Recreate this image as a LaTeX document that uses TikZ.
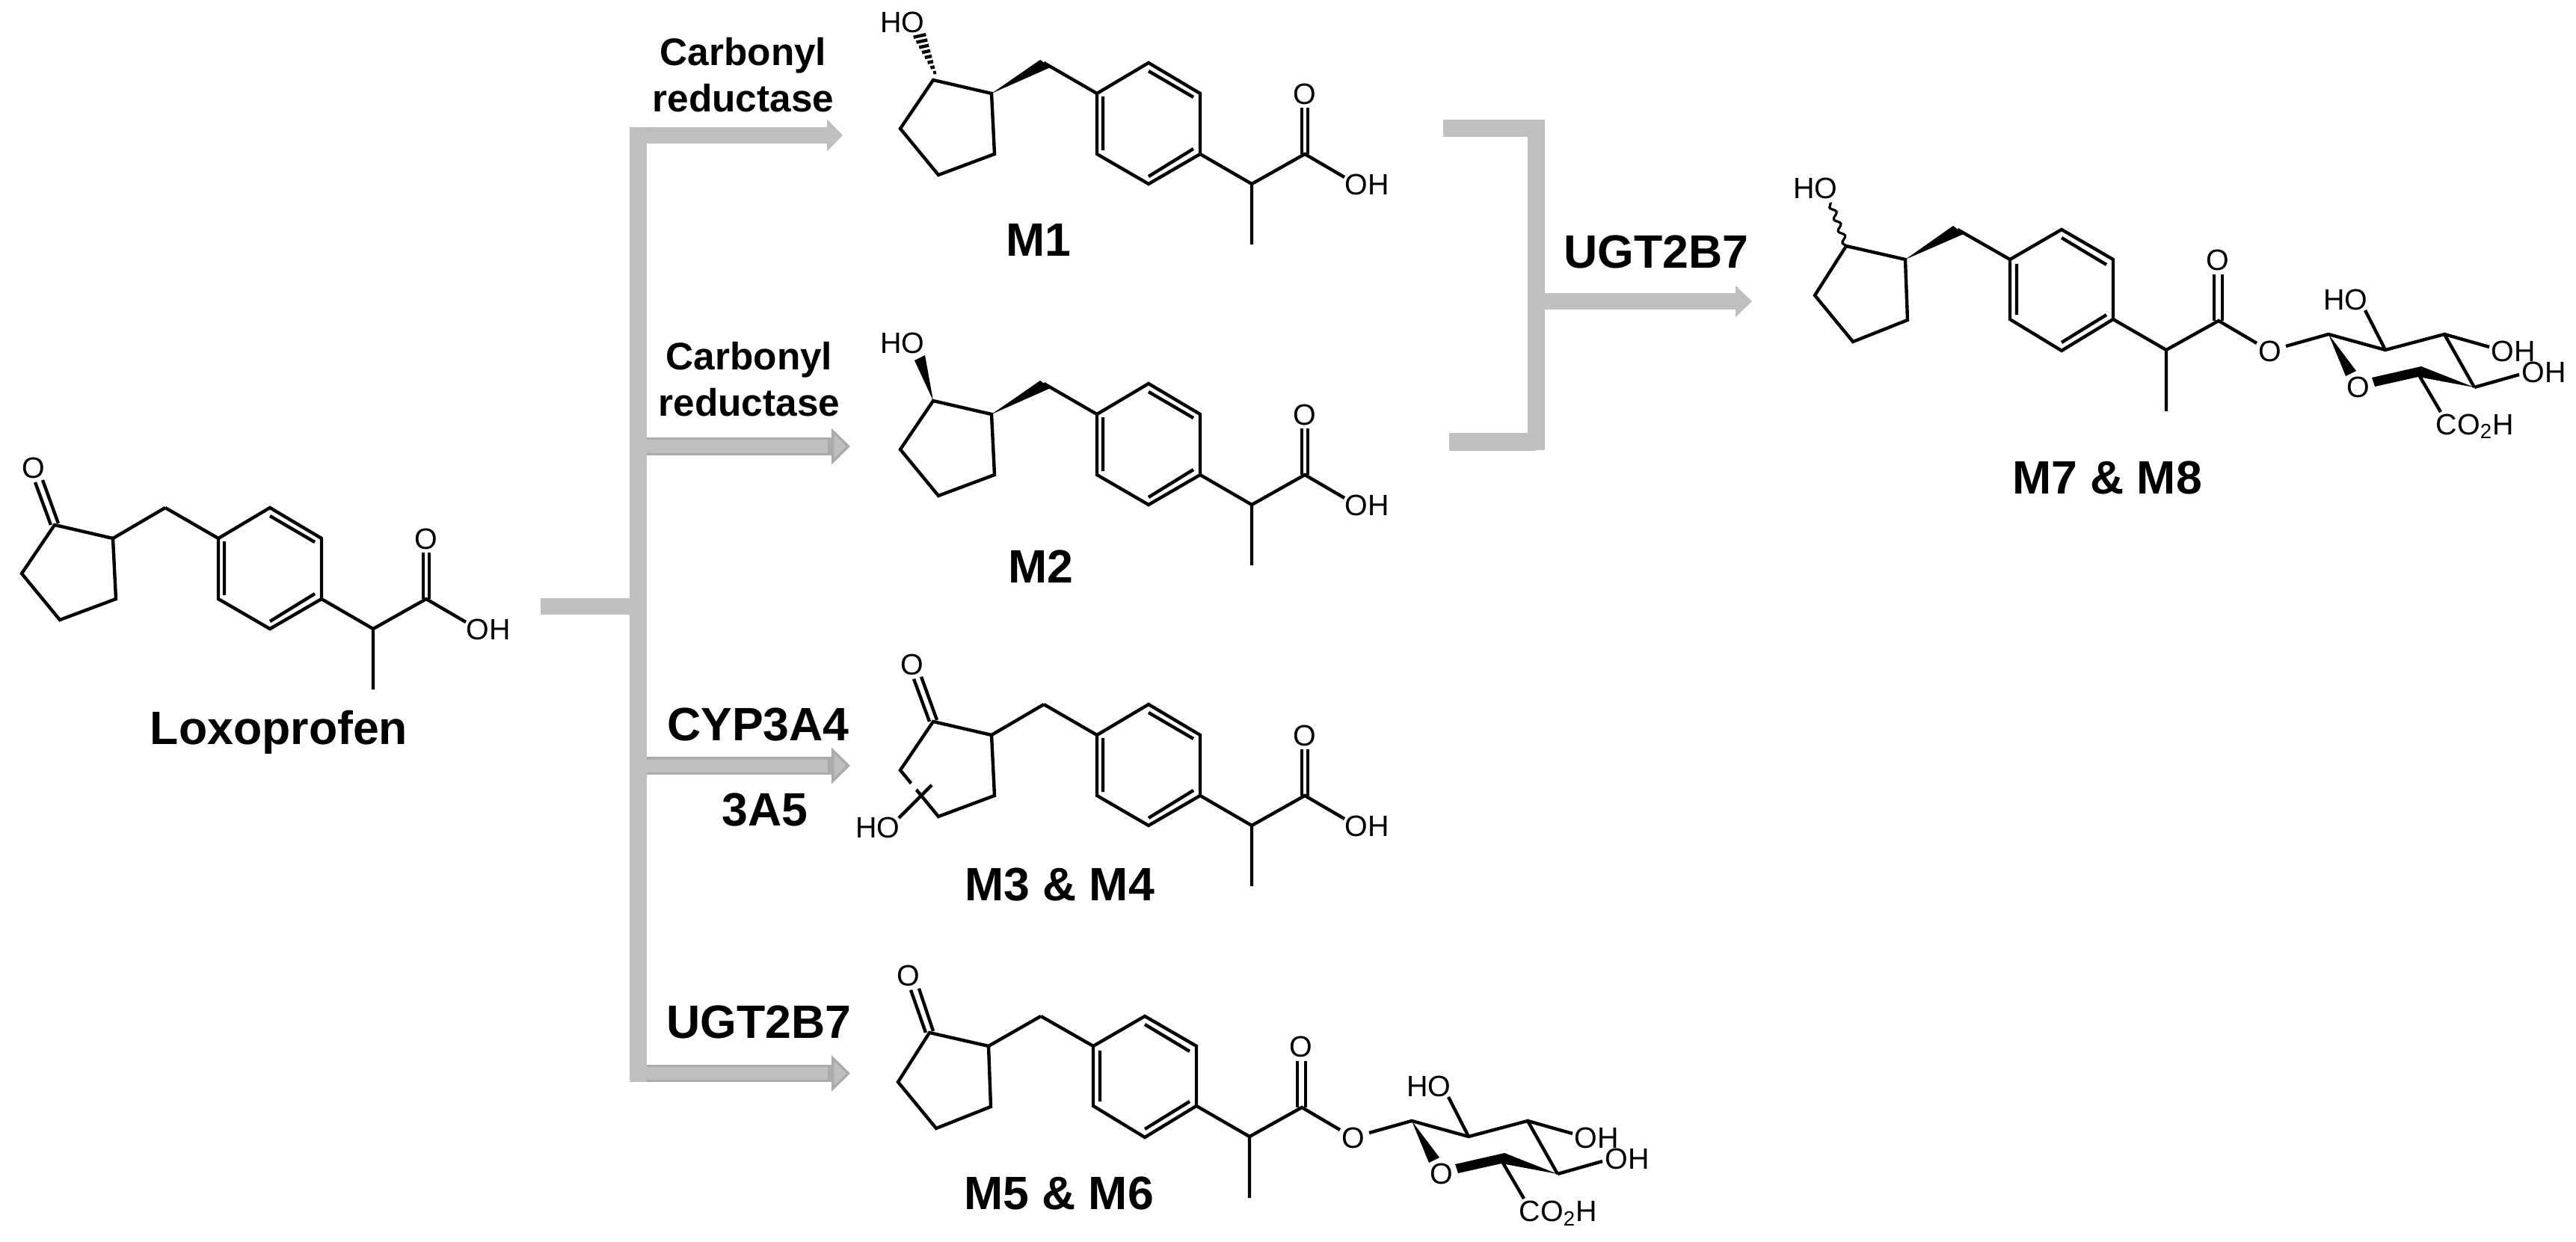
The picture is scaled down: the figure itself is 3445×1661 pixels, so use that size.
\documentclass[tikz,border=0pt]{standalone}
\usepackage{fontspec}
\usepackage{tikz}
\usetikzlibrary{arrows.meta,decorations.pathmorphing}
\setmainfont{Liberation Sans}
\definecolor{barfill}{HTML}{BFBFBF}
\definecolor{baredge}{HTML}{ABABAB}

\newcommand{\acidbody}[1]{%
    \draw[bond] (73,702) -- (151,720) -- (155,801) -- (80,829) -- (29,767) -- cycle;
    \draw[bond] (221,679) -- (292,720) -- (361,679) -- (430,720) -- (430,801) -- (361,841) -- (292,801) -- (292,720);
    \draw[bond] (300,724) -- (300,796) (361,690) -- (421,725) (421,794) -- (361,831);
    \draw[bond] (430,801) -- (499,841) -- (570,801) -- (623,832) (499,841) -- (499,922);
    \draw[bond] (566,739) -- (566,801) (574,739) -- (574,801);
    \node[atomlab] (#1o) at (570,721) {O};
    \node[atomlab] (#1oh) at (653,842) {OH};
}
\newcommand{\ketoneacid}[1]{%
    \draw[bond] (47,645) -- (68,702) (57,642) -- (78,700) (151,720) -- (221,679);
    \node[atomlab] (#1ko) at (45,626) {O};
}
\newcommand{\glucbody}[1]{%
    \draw[bond] (1243,1381) -- (1322,1399) -- (1325,1480) -- (1252,1509) -- (1201,1447) -- cycle;
    \draw[bond] (1392,1359) -- (1462,1399) -- (1531,1359) -- (1600,1399) -- (1600,1479) -- (1531,1521) -- (1462,1479) -- (1462,1399);
    \draw[bond] (1471,1405) -- (1471,1473) (1531,1370) -- (1591,1406) (1591,1473) -- (1531,1510);
    \draw[bond] (1600,1479) -- (1671,1520) -- (1741,1481) -- (1792,1511) (1671,1520) -- (1671,1602);
    \draw[bond] (1735,1419) -- (1735,1481) (1746,1419) -- (1746,1481);
    \draw[bond] (1831,1515) -- (1888,1499) -- (1964,1520) -- (2043,1499) -- (2083,1570);
    \draw[bond] (1964,1520) -- (1937,1467) (2043,1499) -- (2103,1516) (2083,1570) -- (2143,1553) (2008,1552) -- (2038,1603);
    \fill (1888,1499) -- (1911,1555) -- (1925,1548) -- cycle;
    \fill (1946,1557) -- (2012,1542) -- (2083,1570) -- (2008,1556) -- (1950,1569) -- cycle;
    \node[atomlab] (#1o) at (1740,1400) {O};
    \node[atomlab] (#1est) at (1810,1522) {O};
    \node[atomlab] (#1rng) at (1928,1570) {O};
    \node[atomlab] (#1hoa) at (1911,1453) {HO};
    \node[atomlab] (#1ohb) at (2135,1522) {OH};
    \node[atomlab] (#1ohc) at (2176,1550) {OH};
    \node[atomlab, anchor=base] (#1acid) at (2084,1633) {CO\textsubscript{2}H};
}

\begin{document}
\begin{tikzpicture}[
        x=0.01cm, y=-0.01cm,
        bond/.style={draw, line width=1.25pt, line join=miter},
        atomlab/.style={inner sep=0pt, font=\fontsize{11.2}{13}\selectfont},
        namelab/.style={inner sep=0pt, anchor=base, font=\fontsize{17.8}{20}\selectfont\bfseries},
        enzlab/.style={inner sep=0pt, anchor=base, font=\fontsize{14.6}{17.9}\selectfont\bfseries, align=center},
        bar/.style={draw=barfill, line width=0.23cm},
        plainarrow/.style={draw=barfill, line width=0.21cm, -{Triangle[length=0.21cm, width=0.42cm, fill=barfill]}},
        edgearrow/.style={draw=baredge, line width=0.23cm,
            -{Triangle[length=0.25cm, width=0.48cm, fill=barfill, line width=1pt]},
            postaction={draw=barfill, line width=0.17cm, -, shorten >=0.3cm}}
    ]
    \useasboundingbox (0,0) rectangle (3445,1661);

    \begin{scope}
        \acidbody{lx}
        \ketoneacid{lx}
    \end{scope}
    \node[namelab] (lox) at (373,995) {Loxoprofen};

    \begin{scope}[shift={(1175,-595)}]
        \acidbody{ma}
        \fill (151,720) -- (216,675) -- (230,685) -- cycle;
        \foreach \i in {0,...,7} {
            \pgfmathsetmacro\px{75-20*\i/7}
            \pgfmathsetmacro\py{692-49*\i/7}
            \pgfmathsetmacro\w{2+\i}
            \draw[line width=1.25pt] ({\px-\w*.925},{\py+\w*.2}) -- ({\px+\w*.925},{\py-\w*.2});
        }
        \node[atomlab] (maho) at (32,625) {HO};
    \end{scope}
    \node[namelab] (m1) at (1389,343) {M1};

    \begin{scope}[shift={(1175,-166)}]
        \acidbody{mb}
        \fill (151,720) -- (216,675) -- (230,685) -- cycle;
        \fill (73,702) -- (48,648) -- (62,641) -- cycle;
        \node[atomlab] (mbho) at (32,625) {HO};
    \end{scope}
    \node[namelab] (m2) at (1392,779) {M2};

    \begin{scope}[shift={(1175,263)}]
        \acidbody{mc}
        \ketoneacid{mc}
        \draw[white, line width=3pt] (39,798) -- (59,775);
        \draw[bond] (27,831) -- (71,787);
        \node[atomlab] (mcho) at (-1,844) {HO};
    \end{scope}
    \node[namelab] (m3) at (1417,1204) {M3 \& M4};

    \begin{scope}
        \glucbody{md}
        \draw[bond] (1218,1324) -- (1238,1381) (1229,1322) -- (1248,1379) (1322,1399) -- (1392,1359);
        \node[atomlab] (mdko) at (1215,1305) {O};
    \end{scope}
    \node[namelab] (m5) at (1416,1617) {M5 \& M6};

    \begin{scope}[shift={(1226,-1052)}]
        \glucbody{me}
        \fill (1322,1399) -- (1386,1354) -- (1400,1365) -- cycle;
        \draw[line width=0.9pt, decorate, decoration={snake, amplitude=1pt, segment length=4.8pt}] (1243,1381) -- (1222,1323);
        \node[atomlab] (meho) at (1202,1304) {HO};
    \end{scope}
    \node[namelab] (m7) at (2818,660) {M7 \& M8};

    \coordinate (feed) at (723,811);
    \coordinate (feedend) at (842,811);
    \coordinate (trunktop) at (853.5,170);
    \coordinate (trunkbot) at (853.5,1447);
    \coordinate (stem1) at (842,181);
    \coordinate (tip1) at (1127,181);
    \coordinate (stem2) at (865,597);
    \coordinate (tip2) at (1137,597);
    \coordinate (stem3) at (865,1024);
    \coordinate (tip3) at (1137,1024);
    \coordinate (stem4) at (865,1435.5);
    \coordinate (tip4) at (1137,1435.5);
    \coordinate (braca) at (1930,171.5);
    \coordinate (bracb) at (2054,160);
    \coordinate (bracc) at (2054,602);
    \coordinate (bracd) at (1938,591);
    \coordinate (stem5) at (2065,403);
    \coordinate (tip5) at (2343,403);

    \draw[bar] (trunktop) -- (trunkbot);
    \draw[draw=barfill, line width=0.22cm] (feed) -- (feedend);
    \draw[plainarrow] (stem1) -- (tip1);
    \draw[edgearrow] (stem2) -- (tip2);
    \draw[edgearrow] (stem3) -- (tip3);
    \draw[edgearrow] (stem4) -- (tip4);
    \draw[bar] (braca) -- (2054,171.5);
    \draw[bar] (bracb) -- (bracc);
    \draw[bar] (bracd) -- (2054,591);
    \draw[plainarrow, -{Triangle[length=0.22cm, width=0.41cm, fill=barfill]}] (stem5) -- (tip5);

    \node[enzlab] (cra) at (994,150) {Carbonyl\\reductase};
    \node[enzlab] (crb) at (1002,557) {Carbonyl\\reductase};
    \node[namelab] (cyp) at (1014,990) {CYP3A4};
    \node[namelab] (aaf) at (1023,1104) {3A5};
    \node[namelab] (ugta) at (1015,1388) {UGT2B7};
    \node[namelab] (ugtb) at (2215,359) {UGT2B7};
\end{tikzpicture}
\end{document}
